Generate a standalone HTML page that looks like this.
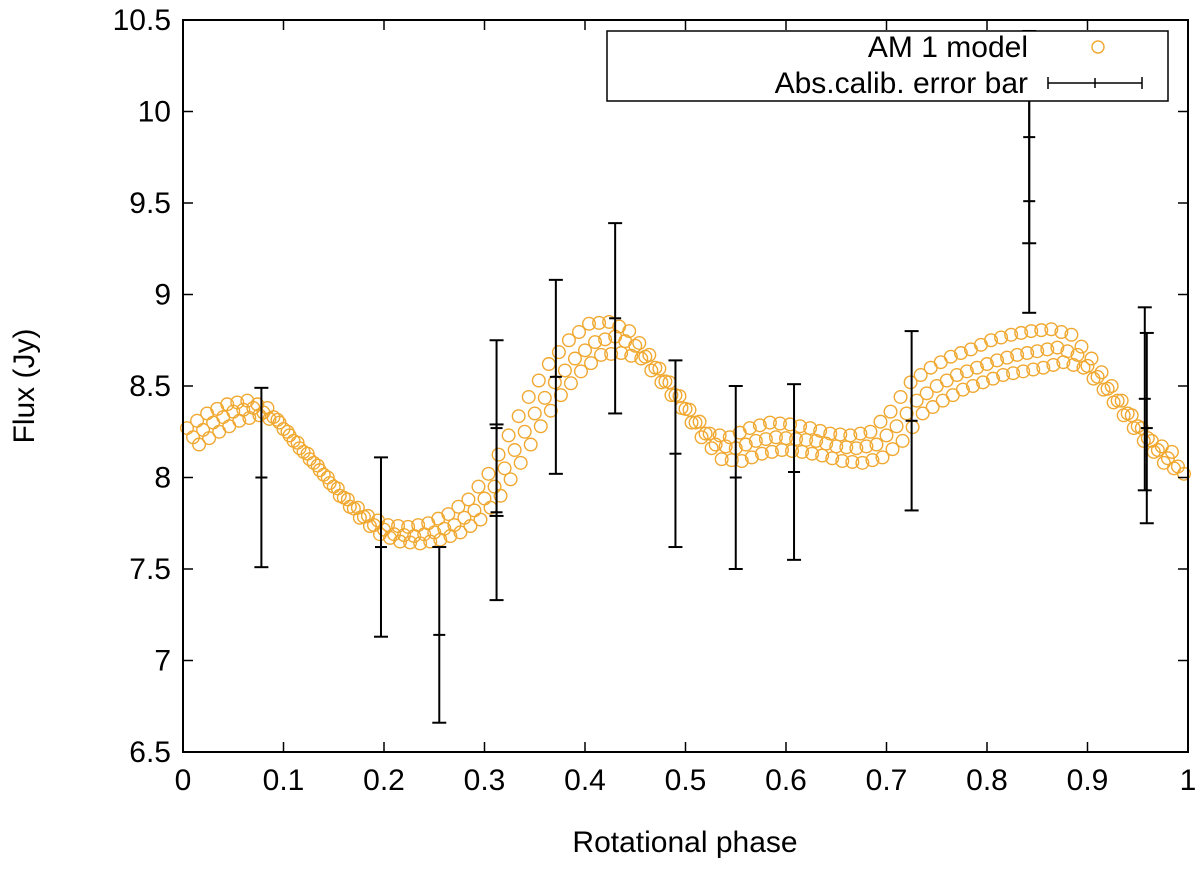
<!DOCTYPE html>
<html><head><meta charset="utf-8"><style>
body{margin:0;background:#fff;}
svg text{font-family:"Liberation Sans",sans-serif;fill:#000;}
</style></head><body>
<svg id="chart" width="1200" height="867" xmlns="http://www.w3.org/2000/svg">
<g id="marks"></g>
<g id="axes"></g>
</svg>
<script>
const xTicks=[0,0.1,0.2,0.3,0.4,0.5,0.6,0.7,0.8,0.9,1];
const xTickLabels=["0","0.1","0.2","0.3","0.4","0.5","0.6","0.7","0.8","0.9","1"];
const yTicks=[6.5,7,7.5,8,8.5,9,9.5,10,10.5];
const yTickLabels=["6.5","7","7.5","8","8.5","9","9.5","10","10.5"];
const modelPhase=[0,0.02,0.04,0.06,0.08,0.10,0.12,0.14,0.16,0.18,0.20,0.22,0.24,0.26,0.28,0.30,0.32,0.34,0.36,0.38,0.40,0.42,0.44,0.46,0.48,0.50,0.52,0.54,0.56,0.58,0.60,0.62,0.64,0.66,0.68,0.70,0.72,0.74,0.76,0.78,0.80,0.82,0.84,0.86,0.88,0.90,0.92,0.94,0.96,0.98];
const modelMid=[8.22,8.30,8.36,8.38,8.33,8.20,8.08,7.95,7.83,7.74,7.69,7.68,7.70,7.74,7.82,7.95,8.15,8.35,8.52,8.65,8.74,8.77,8.72,8.60,8.45,8.30,8.18,8.16,8.20,8.22,8.21,8.20,8.17,8.16,8.18,8.28,8.42,8.50,8.56,8.60,8.64,8.67,8.69,8.71,8.67,8.55,8.42,8.28,8.15,8.06];
const modelUpper=[8.27,8.35,8.40,8.42,8.38,8.25,8.13,8.00,7.88,7.79,7.74,7.73,7.75,7.80,7.88,8.02,8.23,8.44,8.62,8.75,8.84,8.85,8.80,8.67,8.52,8.37,8.24,8.22,8.27,8.30,8.29,8.27,8.24,8.23,8.25,8.36,8.52,8.60,8.66,8.70,8.75,8.78,8.80,8.81,8.78,8.65,8.50,8.34,8.20,8.14];
const modelLower=[8.18,8.25,8.31,8.34,8.30,8.16,8.04,7.90,7.78,7.69,7.65,7.64,7.66,7.70,7.77,7.90,8.08,8.28,8.45,8.58,8.67,8.68,8.65,8.52,8.38,8.22,8.10,8.09,8.13,8.15,8.14,8.12,8.09,8.08,8.11,8.20,8.35,8.42,8.48,8.52,8.56,8.58,8.60,8.63,8.60,8.48,8.34,8.20,8.08,8.02];
const errPhase=[0.078,0.197,0.255,0.312,0.312,0.371,0.43,0.49,0.55,0.608,0.725,0.842,0.842,0.957,0.959];
const errValue=[8.0,7.62,7.14,8.27,7.81,8.55,8.87,8.13,8.0,8.03,8.31,9.51,9.86,8.43,8.27];
const errSize=[0.49,0.49,0.48,0.48,0.48,0.53,0.52,0.51,0.5,0.48,0.49,0.61,0.58,0.5,0.52];

const L=183,R=1188,T=20,B=752;
const X=v=>L+(R-L)*v;
const Y=v=>B-(B-T)*(v-6.5)/4;
const NS="http://www.w3.org/2000/svg";
function mk(tag,attrs,parent){const e=document.createElementNS(NS,tag);for(const k in attrs)e.setAttribute(k,attrs[k]);parent.appendChild(e);return e;}
const marks=document.getElementById('marks'),axes=document.getElementById('axes');
[[modelUpper,0.004],[modelMid,0.01],[modelLower,0.016]].forEach(([arr,off])=>{
  arr.forEach((v,i)=>{
    const p=modelPhase[i]+off; if(p>1)return;
    const c=mk('circle',{cx:X(p),cy:Y(v),r:6.3,fill:'none',stroke:'#f0a830','stroke-width':1.4},marks);
    
    
  });
  arr.forEach((v,i)=>{
    if(i+1>=arr.length)return;
    const p=modelPhase[i]+off+0.01; if(p>1)return;
    const v2=(v+arr[i+1])/2;
    const c=mk('circle',{cx:X(p),cy:Y(v2),r:6.3,fill:'none',stroke:'#f0a830','stroke-width':1.4},marks);
    
    
  });
});
errPhase.forEach((p,i)=>{
  const g=mk('g',{stroke:'#000','stroke-width':2},marks);
  
  
  const x=X(p),y0=Y(errValue[i]-errSize[i]),y1=Y(errValue[i]+errSize[i]),yc=Y(errValue[i]);
  mk('line',{x1:x,x2:x,y1:Math.max(y1,T),y2:y0},g);
  mk('line',{x1:x-7,x2:x+7,y1:y0,y2:y0},g);
  if(y1>=T)mk('line',{x1:x-7,x2:x+7,y1:y1,y2:y1},g);
  mk('line',{x1:x-6,x2:x+6,y1:yc,y2:yc},g);
});
const f=mk('rect',{x:L,y:T,width:R-L,height:B-T,fill:'none',stroke:'#000','stroke-width':2},axes);


xTicks.forEach((v,i)=>{
  mk('line',{x1:X(v),x2:X(v),y1:B,y2:B-10,stroke:'#000','stroke-width':1.5},axes);
  mk('line',{x1:X(v),x2:X(v),y1:T,y2:T+10,stroke:'#000','stroke-width':1.5},axes);
  const t=mk('text',{x:X(v),y:B+38,'font-size':30,'text-anchor':'middle'},axes);
  t.textContent=xTickLabels[i];
  
  
});
yTicks.forEach((v,i)=>{
  mk('line',{x1:L,x2:L+10,y1:Y(v),y2:Y(v),stroke:'#000','stroke-width':1.5},axes);
  mk('line',{x1:R,x2:R-10,y1:Y(v),y2:Y(v),stroke:'#000','stroke-width':1.5},axes);
  const t=mk('text',{x:L-12,y:Y(v)+10,'font-size':30,'text-anchor':'end'},axes);
  t.textContent=yTickLabels[i];
  
  
});
</script>
<svg style="position:absolute;left:0;top:0" width="1200" height="867" xmlns="http://www.w3.org/2000/svg">
<text x="685" y="852" font-size="30" text-anchor="middle">Rotational phase</text>
<text x="34" y="386" font-size="30" text-anchor="middle" transform="rotate(-90 34 386)">Flux (Jy)</text>
<g>
<rect x="607" y="31" width="561" height="70" fill="#fff" stroke="#000" stroke-width="1.5"/>
<text x="1028" y="57" font-size="30" text-anchor="end">AM 1 model</text>
<circle cx="1098" cy="47" r="6" fill="none" stroke="#f0a830" stroke-width="1.4"/>
<text x="1028" y="93" font-size="30" text-anchor="end">Abs.calib. error bar</text>
<g stroke="#000" stroke-width="1.5">
<line x1="1048" x2="1142" y1="83" y2="83"/><line x1="1048" x2="1048" y1="77" y2="89"/><line x1="1142" x2="1142" y1="77" y2="89"/><line x1="1095" x2="1095" y1="78" y2="88"/>
</g>
</g>
</svg>
</body></html>
